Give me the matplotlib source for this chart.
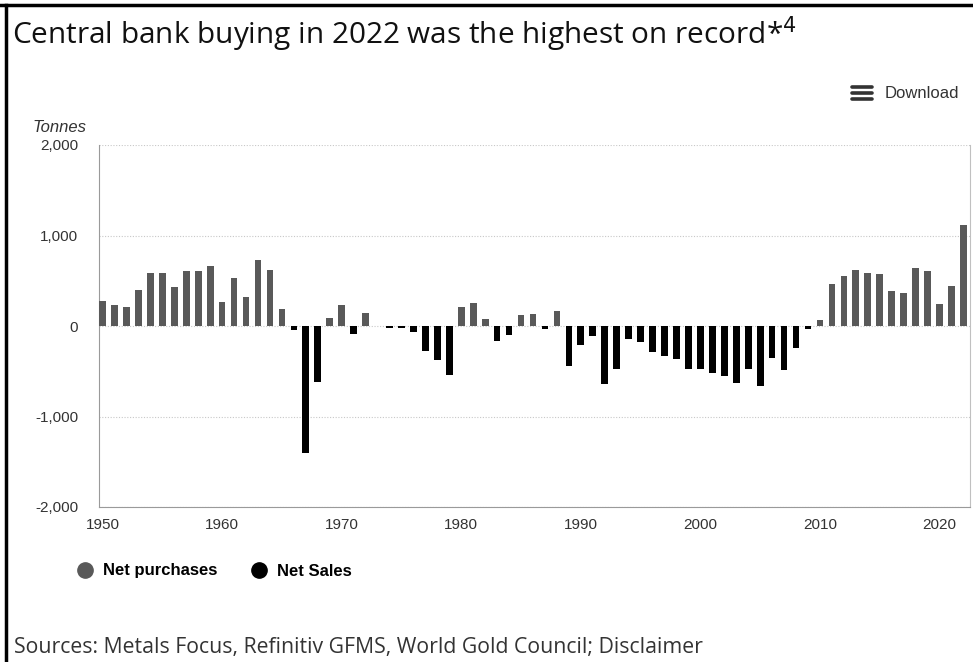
import matplotlib
matplotlib.use('Agg')
import matplotlib.pyplot as plt
from matplotlib.lines import Line2D
from matplotlib.ticker import FuncFormatter
import numpy as np

years = np.arange(1950, 2023)
tonnes = [280, 233, 207, 400, 585, 585, 429, 607, 607, 665,
          265, 527, 324, 724, 618, 193, -47, -1400, -622, 91,
          233, -91, 145, 0, -25, -25, -69, -273, -371, -545,
          211, 255, 80, -167, -102, 124, 138, -33, 167, -444,
          -207, -116, -636, -473, -145, -178, -288, -335, -364, -480,
          -480, -520, -549, -625, -480, -658, -356, -484, -244, -36,
          69, 465, 556, 614, 585, 574, 382, 364, 644, 604,
          247, 440, 1116]
y_ticks = [-2000, -1000, 0, 1000, 2000]
x_ticks = [1950, 1960, 1970, 1980, 1990, 2000, 2010, 2020]
series = ['Net purchases', 'Net Sales']

GREY  = '#595959'
BLACK = '#000000'
W, H  = 973, 662

def px(x, y):
    return x / W, 1 - y / H

fig = plt.figure(figsize=(W / 100, H / 100), dpi=100)
ax  = fig.add_axes([99 / W, 1 - 507 / H, (970 - 99) / W, (507 - 145) / H])

vals   = np.array(tonnes)
colors = [GREY if v >= 0 else BLACK for v in vals]
ax.bar(years, vals, width=0.56, color=colors, zorder=3)

ax.set_xlim(1949.7, 2022.55)
ax.set_ylim(-2000, 2000)
ax.set_yticks(y_ticks)
ax.set_xticks(x_ticks)
ax.yaxis.set_major_formatter(FuncFormatter(lambda v, p: f'{int(v):,}'.replace('\u2212', '-')))
ax.tick_params(length=0, labelsize=11, colors='#333333', pad=8)
ax.tick_params(axis='y', pad=15)
for lab in ax.get_xticklabels() + ax.get_yticklabels():
    lab.set_family('Liberation Sans')
ax.grid(axis='y', ls=(0, (1, 1.5)), color='#c8c8c8', lw=0.8, zorder=1)
ax.spines['top'].set_visible(False)
for s in ['left', 'bottom']:
    ax.spines[s].set_color('#9a9a9a')
ax.spines['right'].set_color('#c0c0c0')

fig.text(*px(33, 127), 'Tonnes', fontsize=12, style='italic', family='Liberation Sans',
         color='#333333', va='center')

fig.text(*px(12, 34), 'Central bank buying in 2022 was the highest on record*$^{4}$',
         fontsize=21.4, family='Open Sans', color='#111111', va='center')

handles = [Line2D([], [], marker='o', ls='', ms=11, color=GREY),
           Line2D([], [], marker='o', ls='', ms=11, color=BLACK)]
fig.legend(handles, series, loc='center left', bbox_to_anchor=px(53, 571), ncol=2,
           frameon=False, handletextpad=0.1, columnspacing=1.5,
           prop={'family': 'Liberation Sans', 'weight': 'bold', 'size': 12})

# download menu
for dy in (-6, 0, 6):
    fig.add_artist(Line2D([852 / W, 872 / W], [1 - (93 + dy) / H] * 2, color='#333333',
                          lw=2.6, solid_capstyle='round'))
fig.text(*px(885, 94), 'Download', fontsize=12, family='Liberation Sans',
         color='#333333', va='center')

fig.text(*px(14, 648), 'Sources: Metals Focus, Refinitiv GFMS, World Gold Council; Disclaimer',
         fontsize=15.3, family='Open Sans', color='#333333', va='center')

# frame of the card
fig.add_artist(Line2D([0, 1], [1 - 5 / H] * 2, color='black', lw=2.5))
fig.add_artist(Line2D([6 / W] * 2, [0, 1 - 5 / H], color='black', lw=2.5))

fig.savefig('out.png', dpi=100, facecolor='white')
